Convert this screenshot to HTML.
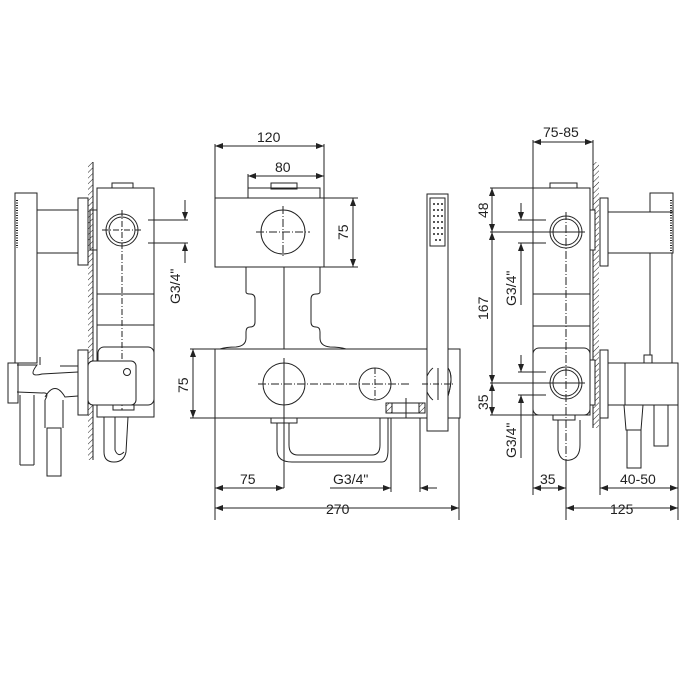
<!DOCTYPE html>
<html><head><meta charset="utf-8"><style>html,body{margin:0;padding:0;background:#fff}svg{display:block}</style></head>
<body>
<svg width="700" height="700" viewBox="0 0 700 700" xmlns="http://www.w3.org/2000/svg" font-family="Liberation Sans, sans-serif" font-size="14" fill="none" stroke="#222" stroke-width="1">
<defs>
<pattern id="h" width="4" height="4" patternUnits="userSpaceOnUse" patternTransform="rotate(45)"><line x1="0" y1="0" x2="0" y2="4" stroke="#222" stroke-width="1"/></pattern>
<marker id="a" markerWidth="8" markerHeight="6" refX="8" refY="3" orient="auto-start-reverse"><path d="M0,0 L8,3 L0,6" fill="#222" stroke="none"/></marker>
</defs>

<!-- ============ LEFT VIEW ============ -->
<rect x="88" y="162" width="5" height="298" fill="url(#h)" stroke="none"/>
<line x1="93" y1="162" x2="93" y2="460"/>
<rect x="97" y="188" width="57" height="229"/>
<rect x="112" y="183" width="21" height="5"/>
<circle cx="122" cy="230" r="16"/><circle cx="122" cy="230" r="13"/>
<line x1="122" y1="210" x2="122" y2="410" stroke-dasharray="6,2,1,2"/>
<line x1="102" y1="230" x2="142" y2="230" stroke-dasharray="6,2,1,2"/>
<line x1="97" y1="294" x2="154" y2="294"/><line x1="97" y1="325" x2="154" y2="325"/>
<rect x="90" y="210" width="7" height="40"/>
<rect x="98" y="347" width="56" height="58" rx="6"/>
<rect x="88" y="361" width="48" height="44" rx="5" fill="#fff"/>
<circle cx="127" cy="372" r="3.5"/>
<rect x="113" y="405" width="21" height="5"/>
<path d="M104,417 L104,452 Q104,462 114,462 Q124,462 126,452 L128,417"/>
<path d="M115,417 L115,450 Q118,458 124,452"/>
<!-- left hand shower -->
<rect x="15" y="193" width="22" height="170"/>
<line x1="17" y1="200" x2="17" y2="248" stroke-dasharray="1,1.5" stroke-width="2"/>
<rect x="78" y="198" width="10" height="67"/>
<rect x="37" y="210" width="41" height="43"/>
<rect x="78" y="350" width="10" height="65"/>
<rect x="8" y="363" width="10" height="40"/>
<path d="M17,365 L37,365 Q27,378 42,374 L78,372"/>
<path d="M17,392 L42,393 Q50,392 45,400"/>
<path d="M45,397 Q55,380 65,397 L78,396"/>
<line x1="40" y1="357" x2="40" y2="365"/><line x1="60" y1="366" x2="78" y2="366"/>
<line x1="20" y1="395" x2="20" y2="465"/><line x1="34" y1="395" x2="34" y2="465"/>
<line x1="20" y1="465" x2="34" y2="465"/>
<line x1="45" y1="400" x2="45" y2="428"/><line x1="63" y1="400" x2="63" y2="428"/>
<rect x="47" y="428" width="14" height="48"/>
<!-- left dims -->
<line x1="148" y1="220" x2="188" y2="220"/><line x1="148" y1="243" x2="188" y2="243"/>
<line x1="185" y1="200" x2="185" y2="220" marker-end="url(#a)"/>
<line x1="185" y1="263" x2="185" y2="243" marker-end="url(#a)"/>
<text x="0" y="0" transform="translate(180,304) rotate(-90)" fill="#222" stroke="none">G3/4"</text>
<line x1="193" y1="349" x2="193" y2="418" marker-start="url(#a)" marker-end="url(#a)"/>
<text x="0" y="0" transform="translate(188,393) rotate(-90)" fill="#222" stroke="none">75</text>

<!-- ============ MIDDLE VIEW ============ -->
<line x1="215" y1="144" x2="215" y2="198"/><line x1="324" y1="144" x2="324" y2="198"/>
<line x1="215" y1="146" x2="324" y2="146" marker-start="url(#a)" marker-end="url(#a)"/>
<text x="257" y="142" fill="#222" stroke="none">120</text>
<line x1="248" y1="174" x2="248" y2="188"/>
<line x1="248" y1="176" x2="324" y2="176" marker-start="url(#a)" marker-end="url(#a)"/>
<text x="275" y="172" fill="#222" stroke="none">80</text>
<rect x="248" y="188" width="72" height="10"/>
<rect x="271" y="183" width="26" height="6"/>
<rect x="215" y="198" width="109" height="69"/>
<circle cx="283" cy="232" r="22"/>
<line x1="283" y1="206" x2="283" y2="258" stroke-dasharray="8,2,1,2"/>
<line x1="256" y1="232" x2="310" y2="232" stroke-dasharray="8,2,1,2"/>
<line x1="324" y1="198" x2="358" y2="198"/><line x1="324" y1="267" x2="358" y2="267"/>
<line x1="353" y1="198" x2="353" y2="267" marker-start="url(#a)" marker-end="url(#a)"/>
<text x="0" y="0" transform="translate(348,240) rotate(-90)" fill="#222" stroke="none">75</text>
<path d="M246,267 L246,292 Q246,294 250,294 Q255,294 255,299 L255,322 Q255,327 250,327 Q246,327 246,332 L246,338 Q246,346 236,347 Q226,347 220,349"/>
<path d="M320,267 L320,292 Q320,294 316,294 Q311,294 311,299 L311,322 Q311,327 316,327 Q320,327 320,332 L320,338 Q320,346 330,347 Q340,347 346,349"/>
<line x1="284" y1="267" x2="284" y2="349"/>
<rect x="215" y="349" width="245" height="69"/>
<circle cx="284" cy="384" r="21"/>
<circle cx="375" cy="384" r="16"/>
<path d="M427,376 Q430,370 433,368 M448,368 Q454,376 448,396 M427,392 Q430,398 433,400"/>
<line x1="258" y1="384" x2="410" y2="384" stroke-dasharray="8,2,1,2"/>
<line x1="284" y1="358" x2="284" y2="488"/>
<line x1="375" y1="368" x2="375" y2="400" stroke-dasharray="6,2,1,2"/>
<!-- hand shower middle -->
<rect x="427" y="194" width="21" height="237" fill="#fff"/>
<rect x="430" y="198" width="15" height="48"/>
<g fill="#222" stroke="none">
<circle cx="434" cy="204" r="1"/><circle cx="438" cy="204" r="1"/><circle cx="442" cy="204" r="1"/>
<circle cx="434" cy="210" r="1"/><circle cx="438" cy="210" r="1"/><circle cx="442" cy="210" r="1"/>
<circle cx="434" cy="216" r="1"/><circle cx="438" cy="216" r="1"/><circle cx="442" cy="216" r="1"/>
<circle cx="434" cy="222" r="1"/><circle cx="438" cy="222" r="1"/><circle cx="442" cy="222" r="1"/>
<circle cx="434" cy="228" r="1"/><circle cx="438" cy="228" r="1"/><circle cx="442" cy="228" r="1"/>
<circle cx="434" cy="234" r="1"/><circle cx="438" cy="234" r="1"/><circle cx="442" cy="234" r="1"/>
<circle cx="436" cy="240" r="1"/><circle cx="440" cy="240" r="1"/>
</g>
<path d="M427,376 Q430,370 433,368 M448,368 Q454,376 448,396 M427,392 Q430,398 433,400"/>
<line x1="438" y1="368" x2="438" y2="400"/><line x1="422" y1="384" x2="455" y2="384" stroke-dasharray="6,2,1,2"/>
<!-- outlet -->
<rect x="386" y="403" width="39" height="10"/>
<rect x="386" y="403" width="6" height="10" fill="url(#h)"/><rect x="419" y="403" width="6" height="10" fill="url(#h)"/>
<line x1="406" y1="398" x2="406" y2="418"/>
<!-- U pipe -->
<rect x="271" y="418" width="26" height="5"/>
<path d="M277,423 L277,450 Q277,462 292,462 L382,462 Q388,462 388,450 L388,418"/>
<path d="M289,423 L289,445 Q289,455 298,455 L372,455 Q380,455 380,445 L380,418"/>
<!-- middle dims -->
<line x1="215" y1="349" x2="190" y2="349"/><line x1="215" y1="418" x2="190" y2="418"/>
<line x1="215" y1="418" x2="215" y2="520"/><line x1="459" y1="418" x2="459" y2="520"/>
<line x1="391" y1="418" x2="391" y2="492"/><line x1="420" y1="418" x2="420" y2="492"/>
<line x1="215" y1="488" x2="284" y2="488" marker-start="url(#a)" marker-end="url(#a)"/>
<text x="240" y="484" fill="#222" stroke="none">75</text>
<line x1="330" y1="488" x2="391" y2="488" marker-end="url(#a)"/>
<line x1="437" y1="488" x2="420" y2="488" marker-end="url(#a)"/>
<text x="333" y="484" fill="#222" stroke="none">G3/4"</text>
<line x1="215" y1="508" x2="459" y2="508" marker-start="url(#a)" marker-end="url(#a)"/>
<text x="326" y="514" fill="#222" stroke="none">270</text>

<!-- ============ RIGHT VIEW ============ -->
<line x1="533" y1="140" x2="533" y2="188"/><line x1="593" y1="140" x2="593" y2="162"/>
<line x1="533" y1="142" x2="593" y2="142" marker-start="url(#a)" marker-end="url(#a)"/>
<text x="543" y="137" fill="#222" stroke="none">75-85</text>
<rect x="593" y="162" width="6" height="266" fill="url(#h)" stroke="none"/>
<line x1="593" y1="162" x2="593" y2="428"/>
<rect x="533" y="188" width="57" height="227"/>
<rect x="550" y="183" width="27" height="5"/>
<rect x="590" y="210" width="5" height="40" fill="#fff"/>
<circle cx="566" cy="232" r="16"/><circle cx="566" cy="232" r="13"/>
<line x1="566" y1="212" x2="566" y2="462" stroke-dasharray="8,2,1,2"/>
<line x1="490" y1="232" x2="585" y2="232"/>
<line x1="533" y1="294" x2="590" y2="294"/><line x1="533" y1="326" x2="590" y2="326"/>
<rect x="533" y="348" width="57" height="67" rx="6"/>
<circle cx="566" cy="383" r="16"/><circle cx="566" cy="383" r="13"/>
<line x1="490" y1="383" x2="585" y2="383"/>
<rect x="590" y="360" width="5" height="45" fill="#fff"/>
<rect x="553" y="415" width="22" height="5"/>
<path d="M558,420 L558,450 Q560,462 570,460 Q580,458 580,445 L580,420"/>
<!-- right dims -->
<line x1="490" y1="188" x2="533" y2="188"/><line x1="490" y1="415" x2="533" y2="415"/>
<line x1="492" y1="188" x2="492" y2="232" marker-start="url(#a)" marker-end="url(#a)"/>
<line x1="492" y1="232" x2="492" y2="383" marker-start="url(#a)" marker-end="url(#a)"/>
<line x1="492" y1="383" x2="492" y2="415" marker-start="url(#a)" marker-end="url(#a)"/>
<text x="0" y="0" transform="translate(488,218) rotate(-90)" fill="#222" stroke="none">48</text>
<text x="0" y="0" transform="translate(488,320) rotate(-90)" fill="#222" stroke="none">167</text>
<text x="0" y="0" transform="translate(488,410) rotate(-90)" fill="#222" stroke="none">35</text>
<line x1="518" y1="220" x2="546" y2="220"/><line x1="518" y1="243" x2="546" y2="243"/>
<line x1="521" y1="203" x2="521" y2="220" marker-end="url(#a)"/>
<line x1="521" y1="305" x2="521" y2="243" marker-end="url(#a)"/>
<text x="0" y="0" transform="translate(516,306) rotate(-90)" fill="#222" stroke="none">G3/4"</text>
<line x1="518" y1="372" x2="546" y2="372"/><line x1="518" y1="395" x2="546" y2="395"/>
<line x1="521" y1="355" x2="521" y2="372" marker-end="url(#a)"/>
<line x1="521" y1="458" x2="521" y2="395" marker-end="url(#a)"/>
<text x="0" y="0" transform="translate(516,458) rotate(-90)" fill="#222" stroke="none">G3/4"</text>
<!-- right hand shower -->
<rect x="600" y="198" width="8" height="68"/>
<rect x="608" y="212" width="65" height="41"/>
<rect x="650" y="193" width="23" height="19"/>
<line x1="671" y1="200" x2="671" y2="253" stroke-dasharray="1,1.5" stroke-width="2"/>
<line x1="650" y1="253" x2="650" y2="355"/><line x1="672" y1="253" x2="672" y2="363"/>
<rect x="644" y="355" width="8" height="8"/>
<rect x="608" y="363" width="70" height="42"/>
<line x1="625" y1="363" x2="625" y2="405"/>
<rect x="600" y="350" width="8" height="68"/>
<path d="M624,405 L626,430 L641,430 L643,405"/>
<path d="M627,430 L627,468 L641,468 L641,430"/>
<path d="M654,405 L654,446 L668,446 L668,405"/>
<line x1="600" y1="418" x2="600" y2="495"/><line x1="678" y1="405" x2="678" y2="520"/>
<line x1="533" y1="415" x2="533" y2="495"/><line x1="566" y1="462" x2="566" y2="520"/>
<line x1="533" y1="488" x2="566" y2="488" marker-start="url(#a)" marker-end="url(#a)"/>
<text x="540" y="484" fill="#222" stroke="none">35</text>
<line x1="600" y1="488" x2="678" y2="488" marker-start="url(#a)" marker-end="url(#a)"/>
<text x="620" y="484" fill="#222" stroke="none">40-50</text>
<line x1="566" y1="508" x2="678" y2="508" marker-start="url(#a)" marker-end="url(#a)"/>
<text x="610" y="514" fill="#222" stroke="none">125</text>
</svg>
</body></html>
